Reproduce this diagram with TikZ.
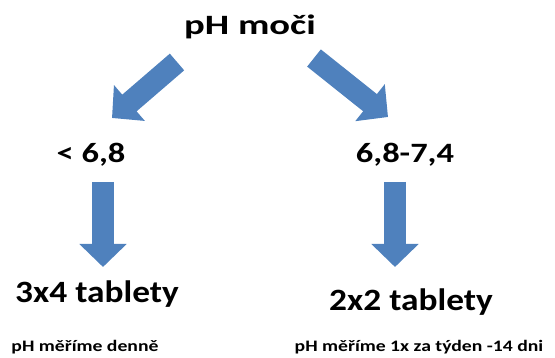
\documentclass[tikz,border=0pt]{standalone}
\usepackage{fontspec}
\setmainfont{Carlito}
\newfontfamily\titlefont{Carlito}[FakeStretch=1.38]
\newfontfamily\widefont{Carlito}[FakeStretch=1.23]
\newfontfamily\tabfont{Carlito}[FakeStretch=1.14]
\usepackage{tikz}
\usetikzlibrary{calc}
\usetikzlibrary{arrows.meta}
\tikzset{>=latex}
\definecolor{arrowblue}{RGB}{79,129,189}
\tikzset{
  blockarrow/.style={draw=arrowblue, line width=22pt, -{Triangle[length=23pt,width=46pt]}},
  titletext/.style={anchor=base, inner sep=0pt, font=\titlefont\bfseries\fontsize{28}{30}\selectfont},
  bigtext/.style={anchor=base, inner sep=0pt, font=\widefont\bfseries\fontsize{28}{30}\selectfont},
  tabtext/.style={anchor=base, inner sep=0pt, font=\tabfont\bfseries\fontsize{31}{34}\selectfont},
  notetext/.style={anchor=base, inner sep=0pt, font=\widefont\bfseries\fontsize{16}{18}\selectfont}
}

\begin{document}
\begin{tikzpicture}[x=1pt,y=-1pt]
                \useasboundingbox (0,0) rectangle (555,358);

                \node[titletext] (moc) at (250,35) {pH moči};
                \node[bigtext] (nizke) at (91,163) {< 6,8};
                \node[bigtext] (stred) at (405,163) {6,8-7,4};
                \node[tabtext] (tab34) at (97,303) {3x4 tablety};
                \node[tabtext] (tab22) at (411,311) {2x2 tablety};
                \node[notetext] (den) at (85,352) {pH měříme denně};
                \node[notetext] (tyden) at (419,352) {pH měříme 1x za týden -14 dni};

                \coordinate (a1) at (177,62);
                \coordinate (b1) at (112,118);
                \coordinate (a2) at (314,58);
                \coordinate (b2) at (388,117);
                \coordinate (a3) at (103,182);
                \coordinate (b3) at (103,267);
                \coordinate (a4) at (395,182);
                \coordinate (b4) at (395,267);

                \foreach \i in {1,...,4} {
                  \draw[blockarrow] (a\i) -- (b\i);
                }
              \end{tikzpicture}
\end{document}
